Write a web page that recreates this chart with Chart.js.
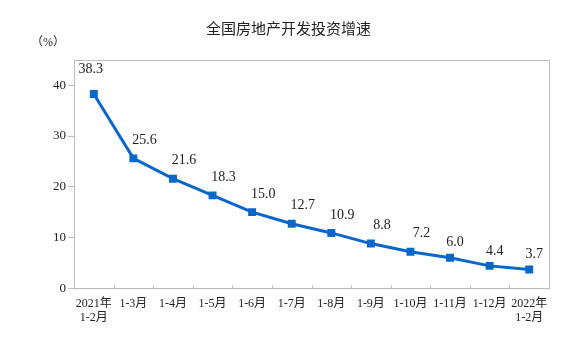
<!doctype html>
<html lang="zh">
<head>
<meta charset="utf-8">
<title>全国房地产开发投资增速</title>
<style>
  *{box-sizing:border-box;margin:0;padding:0}
  html,body{width:579px;height:352px;background:#fff;overflow:hidden}
  .wrap{position:relative;width:579px;height:352px}
</style>
</head>
<body>
<div class="wrap"><canvas id="c" width="579" height="352"></canvas></div>

<script src="https://cdn.jsdelivr.net/npm/chart.js"></script>
<script>
const TITLE = '全国房地产开发投资增速';
const UNIT = '（%）';
const labels = [['2021年','1-2月'],'1-3月','1-4月','1-5月','1-6月','1-7月','1-8月','1-9月','1-10月','1-11月','1-12月',['2022年','1-2月']];
const growth = [38.3,25.6,21.6,18.3,15.0,12.7,10.9,8.8,7.2,6.0,4.4,3.7];
const yTicks = [0,10,20,30,40];

const BLUE = '#0a66c9', AXIS = '#bdbdbd', TXT = '#222';
const SERIF = '"Liberation Serif","Noto Sans CJK SC",serif';

// title, box around plot, inward x ticks, unit text, value labels
const extras = {
  id:'extras',
  afterDraw(c){
    const {ctx, chartArea:a, scales:{x}} = c;
    ctx.save();
    ctx.fillStyle = TXT;
    ctx.textAlign='center'; ctx.textBaseline='middle';
    ctx.font = '15px "Noto Sans CJK SC",sans-serif';
    ctx.fillText(TITLE, c.width/2-1, 28);

    ctx.strokeStyle = AXIS; ctx.lineWidth = 1;
    ctx.strokeRect(a.left+0.5, a.top+0.5, a.right-a.left, a.bottom-a.top);
    // x tick marks between categories, pointing up into the plot
    for(let i=1;i<labels.length;i++){
      const px = Math.round((x.getPixelForValue(i-1)+x.getPixelForValue(i))/2)+0.5;
      ctx.beginPath(); ctx.moveTo(px,a.bottom); ctx.lineTo(px,a.bottom-3); ctx.stroke();
    }
    ctx.font = '12px '+SERIF;
    ctx.fillText(UNIT, a.left-26, a.top-17);
    // value labels, up and to the right of each point
    ctx.font = '14px '+SERIF;
    const meta = c.getDatasetMeta(0);
    meta.data.forEach((p,i)=>{
      const v = growth[i].toFixed(1);
      let dx = 11, dy = -18;
      if(i===0){ dx = -3; dy = -25; }
      else if(i>=9){ dx = 5; dy = -15; }
      ctx.fillText(v, p.x+dx, p.y+dy);
    });
    ctx.restore();
  }
};

new Chart(document.getElementById('c'),{
  type:'line',
  data:{labels, datasets:[{
    data:growth, borderColor:BLUE, backgroundColor:BLUE, borderWidth:3,
    pointStyle:'rect', pointRadius:3.5, pointHoverRadius:3.5, tension:0, fill:false
  }]},
  options:{
    responsive:false, animation:false, devicePixelRatio:1,
    layout:{padding:{left:51,right:30,top:60,bottom:27}},
    plugins:{
      legend:{display:false}, tooltip:{enabled:false}, title:{display:false}
    },
    scales:{
      x:{
        offset:true,
        grid:{display:false, offset:true},
        border:{color:AXIS},
        ticks:{color:TXT, font:{family:SERIF,size:12}, maxRotation:0, autoSkip:false, padding:0}
      },
      y:{
        min:0, max:45,
        afterBuildTicks(s){ s.ticks = yTicks.map(v=>({value:v})); },
        grid:{drawOnChartArea:false, tickLength:6, color:AXIS},
        border:{color:AXIS},
        ticks:{color:TXT, font:{family:SERIF,size:13}, padding:2}
      }
    }
  },
  plugins:[extras]
});
</script>
</body>
</html>
